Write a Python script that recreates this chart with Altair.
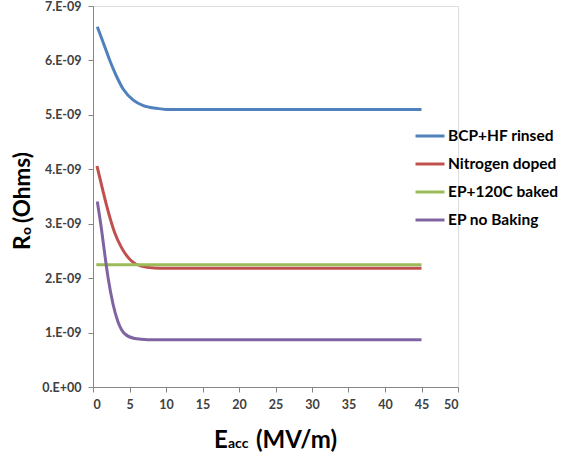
import altair as alt
import pandas as pd

# ---- data ----
series_names = ["BCP+HF rinsed", "Nitrogen doped", "EP+120C baked", "EP no Baking"]
series_colors = ["#4F81BD", "#C0504D", "#9BBB59", "#8064A2"]

x_bcp = [0.59, 1.37, 2.33, 3.25, 4.15, 5.52, 6.89, 8.73, 10, 15, 20, 30, 45]
y_bcp = [6.62e-9, 6.34e-9, 5.99e-9, 5.70e-9, 5.47e-9, 5.27e-9, 5.17e-9, 5.12e-9,
         5.10e-9, 5.10e-9, 5.10e-9, 5.10e-9, 5.10e-9]

x_nit = [0.55, 1.37, 2.05, 2.96, 3.87, 5.23, 6.6, 8.4, 10, 15, 20, 30, 45]
y_nit = [4.06e-9, 3.60e-9, 3.24e-9, 2.84e-9, 2.57e-9, 2.32e-9, 2.22e-9, 2.185e-9,
         2.18e-9, 2.18e-9, 2.18e-9, 2.18e-9, 2.18e-9]

x_ep120 = [0.45, 10, 20, 30, 45]
y_ep120 = [2.245e-9, 2.245e-9, 2.245e-9, 2.245e-9, 2.245e-9]

x_epnb = [0.59, 1.13, 1.6, 2.05, 2.73, 3.42, 4.33, 5.7, 7.5, 10, 15, 20, 30, 45]
y_epnb = [3.41e-9, 2.93e-9, 2.45e-9, 2.02e-9, 1.53e-9, 1.20e-9, 0.98e-9, 0.89e-9,
          0.87e-9, 0.87e-9, 0.87e-9, 0.87e-9, 0.87e-9, 0.87e-9]

x_ticks = [0, 5, 10, 15, 20, 25, 30, 35, 40, 45, 50]
y_ticks = [0, 1e-9, 2e-9, 3e-9, 4e-9, 5e-9, 6e-9, 7e-9]

rows = []
for name, xs, ys in zip(series_names,
                        [x_bcp, x_nit, x_ep120, x_epnb],
                        [y_bcp, y_nit, y_ep120, y_epnb]):
    for xv, yv in zip(xs, ys):
        rows.append({"series": name, "E": xv, "R": yv})
df = pd.DataFrame(rows)

FONT = "Lato"
LEFT, TOP = 93, 6
W, H = 365, 381

axis_style = dict(grid=False, title=None, domainColor="#868686", tickColor="#868686",
                  tickSize=5, labelFont=FONT, labelFontWeight="bold",
                  labelFontSize=12.5, labelColor="#404040")

lines = alt.Chart(df).mark_line(strokeWidth=3, interpolate="monotone").encode(
    x=alt.X("E:Q", scale=alt.Scale(domain=[0, 50], nice=False),
            axis=alt.Axis(values=x_ticks, labelPadding=6, **axis_style)),
    y=alt.Y("R:Q", scale=alt.Scale(domain=[0, 7e-9], nice=False),
            axis=alt.Axis(values=y_ticks, labelPadding=7,
                          labelExpr="datum.value == 0 ? '0.E+00' : round(datum.value*1e9) + '.E-09'",
                          **axis_style)),
    color=alt.Color("series:N",
                    scale=alt.Scale(domain=series_names, range=series_colors),
                    sort=series_names,
                    legend=alt.Legend(title=None, orient="none", legendX=321, legendY=114,
                                      symbolType="stroke", symbolSize=841,
                                      symbolStrokeWidth=3, labelFont=FONT,
                                      labelFontWeight="bold", labelFontSize=15.5,
                                      labelColor="#000000", labelOffset=2,
                                      rowPadding=3, labelLimit=300, padding=0)),
)

def txt(s, x, y, size, angle=0, align="left"):
    return alt.Chart(pd.DataFrame({"t": [s]})).mark_text(
        font=FONT, fontWeight="bold", fontSize=size, align=align,
        baseline="alphabetic", angle=angle, color="#000000"
    ).encode(text="t:N", x=alt.value(x - LEFT), y=alt.value(y - TOP))

# x-axis title  E_acc (MV/m)
xt = (txt("E", 214, 448, 24)
      + txt("acc", 228, 448, 14)
      + txt("(MV/m)", 256, 448, 24))
# y-axis title  R_o (Ohms)
yt = (txt("R", 30, 250, 23, angle=270)
      + txt("o", 31, 235, 14, angle=270)
      + txt("(Ohms)", 30, 223, 22.5, angle=270))

chart = alt.layer(lines, xt, yt).properties(
    width=W, height=H,
    autosize=alt.AutoSizeParams(type="none"),
    padding={"left": LEFT, "top": TOP, "right": 564 - LEFT - W, "bottom": 456 - TOP - H},
).configure_view(stroke=None).configure(background="#ffffff")

chart.save("out.html", embed_options={"renderer": "svg", "actions": False})
